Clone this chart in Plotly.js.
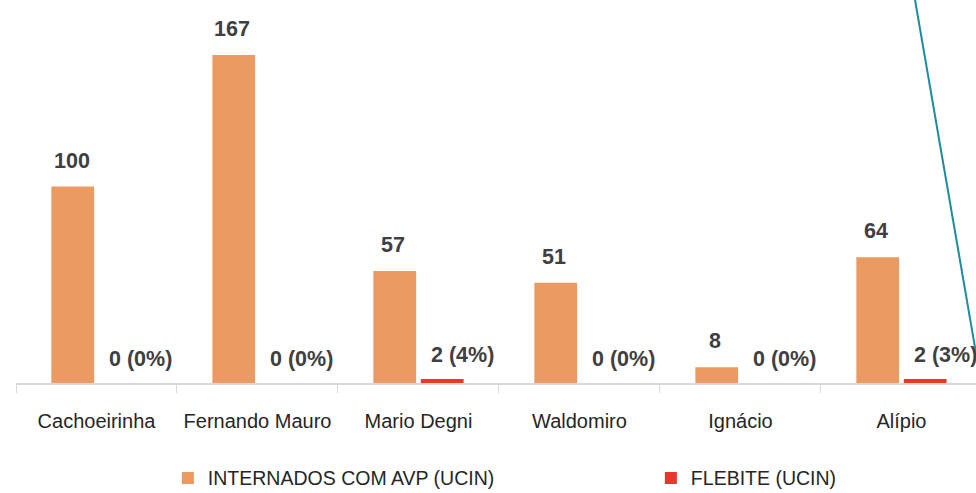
<!DOCTYPE html>
<html>
<head>
<meta charset="utf-8">
<script src="https://cdn.plot.ly/plotly-3.0.1.min.js"></script>
<style>html,body{margin:0;padding:0;background:#fff;}#chart{width:976px;height:493px;}</style>
</head>
<body>
<div id="chart"></div>
<script>
var categories = ["Cachoeirinha", "Fernando Mauro", "Mario Degni", "Waldomiro", "Ignácio", "Alípio"];
var internados = [100, 167, 57, 51, 8, 64];
var flebite = [0, 0, 2, 0, 0, 2];
var flebiteLabels = ["0 (0%)", "0 (0%)", "2 (4%)", "0 (0%)", "0 (0%)", "2 (3%)"];
var seriesNames = ["INTERNADOS COM AVP (UCIN)", "FLEBITE (UCIN)"];

var FONT = '"Liberation Sans", Arial, sans-serif';
var ORANGE = '#EB9A62';
var RED = '#E5392E';
var LABEL = '#404040';

var traces = [
  {type: 'bar', name: seriesNames[0], x: categories, y: internados,
   marker: {color: ORANGE}, legendwidth: 438, hoverinfo: 'x+y'},
  {type: 'bar', name: seriesNames[1], x: categories, y: flebite,
   marker: {color: RED}, hoverinfo: 'x+y'}
];

var annotations = [];
categories.forEach(function (c, i) {
  annotations.push({x: c, y: internados[i], xref: 'x', yref: 'y', text: '<b>' + internados[i] + '</b>',
    showarrow: false, yanchor: 'bottom', xanchor: 'center', xshift: -25, yshift: 12,
    font: {family: FONT, size: 21.5, color: LABEL}});
  annotations.push({x: c, y: flebite[i], xref: 'x', yref: 'y', text: '<b>' + flebiteLabels[i] + '</b>',
    showarrow: false, yanchor: 'bottom', xanchor: 'center', xshift: 44, yshift: 10,
    font: {family: FONT, size: 21.5, color: LABEL}});
});

var layout = {
  width: 976, height: 493,
  margin: {l: 16, r: 0, t: 0, b: 110, pad: 0},
  paper_bgcolor: '#ffffff', plot_bgcolor: '#ffffff',
  barmode: 'group', bargap: 0.41, bargroupgap: 0.1,
  font: {family: FONT, color: '#262626'},
  xaxis: {
    type: 'category', range: [-0.5, 5.463], tickangle: 0, automargin: false,
    showline: true, linecolor: '#d9d9d9', linewidth: 1.5,
    ticks: 'outside', tickson: 'boundaries', ticklen: 8, tickcolor: '#d9d9d9',
    tickfont: {family: FONT, size: 20, color: '#262626'},
    ticklabelstandoff: 19,
    showgrid: false, zeroline: false, fixedrange: true
  },
  yaxis: {range: [0, 195], visible: false, showgrid: false, zeroline: false, fixedrange: true, automargin: false},
  showlegend: true,
  legend: {
    orientation: 'h', xref: 'container', yref: 'container',
    x: 0.172, xanchor: 'left', y: 0.03, yanchor: 'middle',
    font: {family: FONT, size: 19.5, color: '#262626'},
    bgcolor: 'rgba(0,0,0,0)'
  },
  annotations: annotations,
  shapes: [{
    type: 'line', xref: 'paper', yref: 'paper',
    x0: 0.9365, y0: 1, x1: 1.0, y1: 0.078,
    line: {color: '#1E8C9E', width: 2}
  }]
};

Plotly.newPlot('chart', traces, layout, {displayModeBar: false, staticPlot: true});
</script>
</body>
</html>
